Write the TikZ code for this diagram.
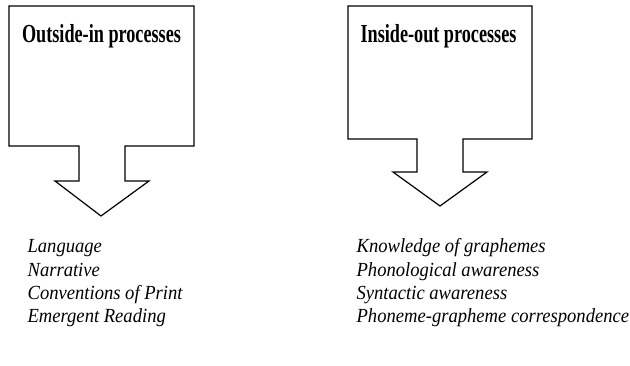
\documentclass[tikz,border=0pt]{standalone}
\usepackage{fontspec}
\setmainfont{Liberation Serif}
\newfontfamily\narrowbold[FakeStretch=0.7]{Liberation Serif}
\newfontfamily\narrowital[FakeStretch=0.93]{Liberation Serif}
\begin{document}
\begin{tikzpicture}
  [x=1pt,y=-1pt,line width=1.2pt,line join=miter]
  \tikzstyle{title} = [inner sep=0pt,anchor=base,font=\narrowbold\bfseries\fontsize{26}{30}\selectfont]
  \tikzstyle{item} = [inner sep=0pt,anchor=base west,font=\narrowital\itshape\fontsize{20}{24}\selectfont]
  \useasboundingbox (0,0) rectangle (630,366);

  % block arrows
  \draw (9,6) -- (194,6) -- (194,146) -- (125,146) -- (125,181) -- (149,181)
     -- (101,216) -- (55,181) -- (79,181) -- (79,146) -- (9,146) -- cycle;
  \draw (348,6) -- (532,6) -- (532,139) -- (463,139) -- (463,172) -- (487,172)
     -- (440,206) -- (393,172) -- (417,172) -- (417,139) -- (348,139) -- cycle;

  \node[title] (outin) at (101.5,43) {Outside-in processes};
  \node[title] (inout) at (438.5,43) {Inside-out processes};

\foreach \name /\y /\text in {lang/253/Language,narr/276.3/Narrative,conv/299.6/Conventions of Print,emer/323/Emergent Reading}
   \node[item] (\name) at (27,\y) {\text};
\foreach \name /\y /\text in {know/253/Knowledge of graphemes,phon/276.3/Phonological awareness,synt/299.6/Syntactic awareness,corr/323/Phoneme-grapheme correspondence}
   \node[item] (\name) at (356,\y) {\text};

  \end{tikzpicture}
\end{document}
